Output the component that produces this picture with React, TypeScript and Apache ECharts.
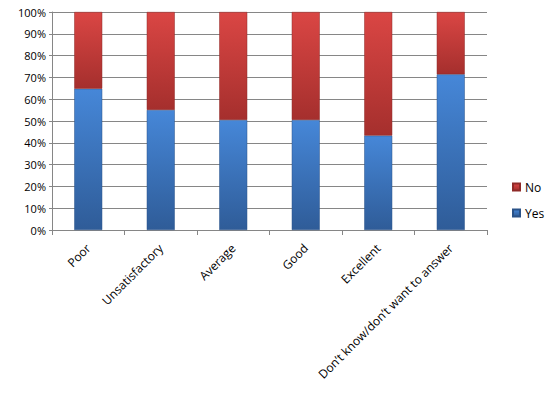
import React, { useEffect, useRef } from "react";
import * as echarts from "echarts";

const categories = ["Poor", "Unsatisfactory", "Average", "Good", "Excellent", "Don\u2019t know/don\u2019t want to answer"];
const yesValues = [64.8, 55.1, 50.5, 50.5, 43.3, 71.4];
const noValues = [35.2, 44.9, 49.5, 49.5, 56.7, 28.6];
const yTicks = [0, 10, 20, 30, 40, 50, 60, 70, 80, 90, 100];

const FONT = "'Open Sans', 'Noto Sans', sans-serif";

export default function App() {
  const ref = useRef<HTMLDivElement>(null);
  useEffect(() => {
    if (!ref.current) return;
    const chart = echarts.init(ref.current, null, { renderer: "svg" });
    const blue = new echarts.graphic.LinearGradient(0, 0, 0, 1, [
      { offset: 0, color: "#4687d8" },
      { offset: 1, color: "#2f5c98" },
    ]);
    const red = new echarts.graphic.LinearGradient(0, 0, 0, 1, [
      { offset: 0, color: "#da4644" },
      { offset: 1, color: "#a52f2d" },
    ]);
    chart.setOption({
      animation: false,
      backgroundColor: "#ffffff",
      grid: { left: 52, right: 63, top: 12, bottom: 167, containLabel: false },
      legend: {
        orient: "vertical",
        left: 507,
        top: 176,
        itemWidth: 7,
        itemHeight: 7,
        itemGap: 14,
        icon: "rect",
        data: ["No", "Yes"],
        textStyle: { fontFamily: FONT, fontSize: 12, color: "#000" },
      },
      xAxis: {
        type: "category",
        data: categories,
        boundaryGap: true,
        axisLine: { lineStyle: { color: "#868686" } },
        axisTick: { show: true, length: 5, lineStyle: { color: "#868686" } },
        axisLabel: { rotate: 45, interval: 0, fontFamily: FONT, fontSize: 12, color: "#000", margin: 16 },
      },
      yAxis: {
        type: "value",
        min: 0,
        max: yTicks[yTicks.length - 1],
        interval: 10,
        axisLine: { show: true, lineStyle: { color: "#868686" } },
        axisTick: { show: true, length: 3, lineStyle: { color: "#868686" } },
        splitLine: { lineStyle: { color: "#868686" } },
        axisLabel: { formatter: "{value}%", fontFamily: FONT, fontSize: 11, color: "#000", margin: 6 },
      },
      series: [
        {
          name: "Yes",
          type: "bar",
          stack: "total",
          data: yesValues,
          barWidth: "38.6%",
          itemStyle: { color: blue, borderColor: "#2a5288", borderWidth: 0.5 },
        },
        {
          name: "No",
          type: "bar",
          stack: "total",
          data: noValues,
          barWidth: "38.6%",
          itemStyle: { color: red, borderColor: "#8f2a28", borderWidth: 0.5 },
        },
      ],
    });
    return () => chart.dispose();
  }, []);
  return (
    <div
      ref={ref}
      style={{ width: 550, height: 397, position: "absolute", left: 0, top: 0 }}
    />
  );
}
